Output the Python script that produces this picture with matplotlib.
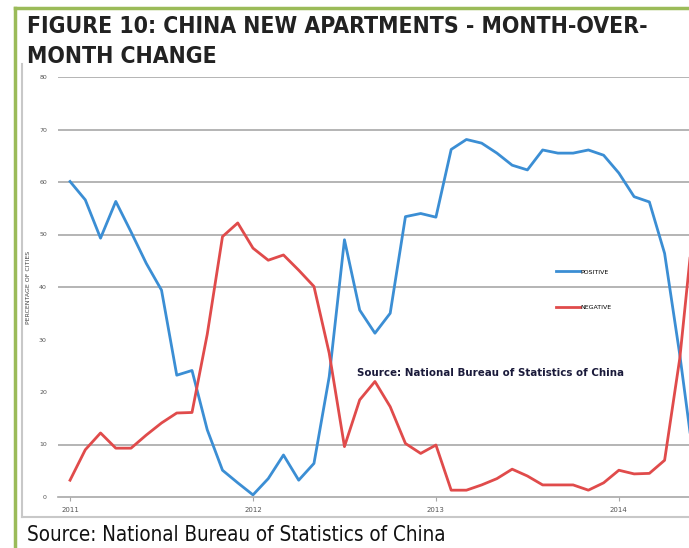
import matplotlib
matplotlib.use("Agg")
import matplotlib.pyplot as plt
import numpy as np

# Porcentaje de ciudades con precio al alza / a la baja, ene-2011 .. jun-2014
positive = [60.1, 56.6, 49.3, 56.3, 50.5, 44.5, 39.4, 23.2, 24.1, 12.8, 5.1, 2.7,
            0.4, 3.5, 8.0, 3.2, 6.4, 22.9, 49.0, 35.6, 31.2, 35.0, 53.4, 54.0,
            53.3, 66.2, 68.1, 67.4, 65.5, 63.2, 62.3, 66.1, 65.5, 65.5, 66.1, 65.1,
            61.7, 57.2, 56.2, 46.4, 27.0, 5.0]
negative = [3.2, 9.0, 12.2, 9.3, 9.3, 11.8, 14.1, 16.0, 16.1, 31.0, 49.6, 52.2,
            47.4, 45.1, 46.1, 43.2, 40.1, 27.4, 9.6, 18.5, 22.0, 17.2, 10.2, 8.3,
            9.9, 1.3, 1.3, 2.3, 3.5, 5.3, 4.0, 2.3, 2.3, 2.3, 1.3, 2.7,
            5.1, 4.4, 4.5, 7.0, 26.5, 55.0]
years = ["2011", "2012", "2013", "2014"]
yticks = [0, 10, 20, 30, 40, 50, 60, 70, 80]
grid_levels = [10, 40, 50, 60, 70, 80]

title = "FIGURE 10: CHINA NEW APARTMENTS - MONTH-OVER-\nMONTH CHANGE"
source = "Source: National Bureau of Statistics of China"

blue = "#3b8ed4"
red = "#e04b4b"

fig = plt.figure(figsize=(6.89, 5.48), dpi=100)
W, H = 689, 548

# Marco verde exterior y caja gris interior
fig.add_artist(plt.Line2D([15 / W, 15 / W], [0, 1 - 8 / H], color="#9bbb59", lw=2.5))
fig.add_artist(plt.Line2D([15 / W, 1], [1 - 8 / H, 1 - 8 / H], color="#9bbb59", lw=2.5))
fig.add_artist(plt.Line2D([22 / W, 22 / W], [1 - 517 / H, 1 - 64 / H], color="#c8c8c8", lw=1.5))
fig.add_artist(plt.Line2D([22 / W, 1], [1 - 517 / H, 1 - 517 / H], color="#c8c8c8", lw=1.5))

fig.text(27 / W, 1 - 15 / H, title, ha="left", va="top", fontsize=16.5,
         fontweight="bold", family="DejaVu Sans", fontstretch="condensed",
         color="#222222", linespacing=1.4)
fig.text(27 / W, 1 - 535 / H, source, ha="left", va="center", fontsize=14.8,
         family="DejaVu Sans", fontstretch="condensed", color="#111111")

ax = fig.add_axes([58 / W, 1 - 497 / H, 1 - 58 / W, 420 / H])
months = np.arange(len(positive))
ax.plot(months, positive, color=blue, lw=2, label="POSITIVE", solid_joinstyle="round")
ax.plot(months, negative, color=red, lw=2, label="NEGATIVE", solid_joinstyle="round")

for g in grid_levels:
    ax.axhline(g, color="#a8a8a8", lw=1.2, zorder=0)

ax.set_xlim(-0.79, 40.6)
ax.set_ylim(0, 80)
ax.set_yticks(yticks)
ax.set_yticklabels([str(v) for v in yticks], fontsize=4.5, color="#555555")
ax.set_xticks([12 * i for i in range(len(years))])
ax.set_xticklabels(years, fontsize=5, color="#555555", ha="center")
ax.tick_params(axis="y", length=0, pad=8)
ax.tick_params(axis="x", length=3, color="#a8a8a8", pad=4)
for side in ["top", "right", "left"]:
    ax.spines[side].set_visible(False)
ax.spines["bottom"].set_color("#a8a8a8")
ax.spines["bottom"].set_linewidth(1.2)
ax.set_ylabel("PERCENTAGE OF CITIES", fontsize=4.5, color="#444444", labelpad=6)

fig.text(357 / W, 1 - 373 / H, source, fontsize=7.4, fontweight="bold",
         color="#1a1a3a", va="center", ha="left")

ax.legend(loc="upper left", bbox_to_anchor=(553 / W, 1 - 266 / H),
          bbox_transform=fig.transFigure, frameon=False, fontsize=4.5,
          handlelength=3.8, handletextpad=0.1, labelspacing=4.8, borderpad=0)

fig.savefig("out.png", dpi=100)
plt.close(fig)
